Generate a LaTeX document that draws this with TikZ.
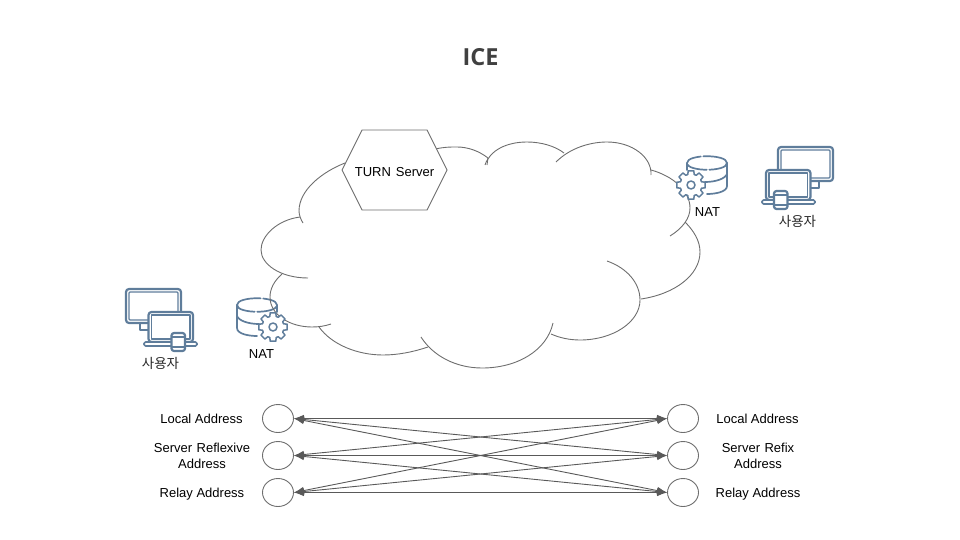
\documentclass[tikz,border=0pt]{standalone}
\usepackage{fontspec}
\setmainfont{Liberation Sans}
\newfontfamily\krfont{Noto Sans CJK KR}
\newfontfamily\titlefont{Open Sans}
\usetikzlibrary{arrows.meta,shapes.geometric}
\definecolor{iconblue}{HTML}{5F7D9B}
\definecolor{cloudgrey}{HTML}{6E6E6E}
\definecolor{linkgrey}{HTML}{595959}
\definecolor{titlegrey}{HTML}{404040}
\tikzset{
  cloudarc/.style={draw=cloudgrey,line width=0.9pt},
  iconline/.style={draw=iconblue,line width=1.7pt,line join=round,line cap=round},
  iconfill/.style={iconline,fill=white},
  labeltext/.style={font=\fontsize{13}{16}\selectfont,text=black,align=center,inner sep=0pt},
  kortext/.style={font=\krfont\fontsize{13.5}{15}\selectfont,text=black!85,inner sep=0pt},
  endpoint/.style={draw=cloudgrey,line width=0.9pt,ellipse,minimum width=31pt,minimum height=28pt,inner sep=0pt},
  linkline/.style={draw=linkgrey,line width=0.9pt,{Latex[length=10pt,width=7.5pt]}-{Latex[length=10pt,width=7.5pt]}},
  pics/devices/.style={code={
    \draw[iconline,line width=2.2pt,rounded corners=3pt] (1,1) rectangle (56,35);
    \draw[iconline,line width=1.3pt,rounded corners=1pt] (4,4) rectangle (53,32);
    \draw[iconline] (15,35)--(15,42)--(23,42);
    \draw[iconfill,line width=2.2pt,rounded corners=3pt] (23.5,24) rectangle (68,54);
    \draw[iconline,line width=1.3pt] (26.5,27) rectangle (65,51);
    \draw[iconfill,rounded corners=1.5pt] (19,54) -- (72,54) -- (72,58) -- (19,58) -- cycle;
    \draw[iconfill,line width=2.2pt,rounded corners=2.5pt] (46.5,45) rectangle (60,63);
    \draw[iconline,line width=1.3pt] (46.5,49)--(60,49) (46.5,59)--(60,59);
  }},
  pics/gearbody/.style={code={
    \draw[iconfill,line width=1.5pt]
      (-11:14.5) \foreach \a in {0,45,...,315}{
        -- (\a-11:14.5) -- (\a+11:14.5) -- (\a+17:11) -- (\a+28:11)
      } -- cycle;
    \draw[iconline,line width=1.5pt] (0,0) circle (4);
  }},
  pics/cylinder/.style={code={
    \draw[iconline,dash pattern=on 26pt off 2.5pt] (0,7) .. controls (0,-2) and (40,-2) .. (40,7);
    \draw[iconline,dash pattern=on 20pt off 2.5pt] (0,7) .. controls (0,16) and (40,16) .. (40,7);
    \draw[iconline] (0,7) -- (0,30) .. controls (0,36) and (12,38) .. (20,38);
    \draw[iconline] (40,7) -- (40,14);
    \draw[iconline] (0,18) .. controls (2,23) and (12,26) .. (22,26);
  }}
}
\begin{document}
\begin{tikzpicture}[x=1pt,y=-1pt]
\useasboundingbox (0,0) rectangle (960,540);
\node[font=\titlefont\bfseries\fontsize{23.5}{26}\selectfont,text=titlegrey,inner sep=0pt] (title) at (480.5,57.5) {ICE};

\pic at (237,298) {cylinder};
\pic[xscale=-1] at (727,156) {cylinder};

\draw[cloudarc] (345,163) .. controls (322,172) and (299,190) .. (299,211) .. controls (299,215) and (301,220) .. (303,223);
\draw[cloudarc] (300,217) .. controls (277,220) and (261,236) .. (261,250) .. controls (261,264) and (280,278) .. (308,278);
\draw[cloudarc] (282,274) .. controls (274,281) and (270,289) .. (270,297) .. controls (270,315) and (290,327) .. (312,327) .. controls (319,327) and (325,326) .. (331,324);
\draw[cloudarc] (319,327) .. controls (332,345) and (358,355) .. (383,355) .. controls (398,355) and (413,352) .. (428,347);
\draw[cloudarc] (421,337) .. controls (433,356) and (456,368) .. (482,368) .. controls (518,368) and (547,350) .. (553,323);
\draw[cloudarc] (551,334) .. controls (560,338) and (570,340) .. (580,340) .. controls (613,340) and (640,322) .. (640,300) .. controls (640,283) and (627,268) .. (607,261);
\draw[cloudarc] (641,299) .. controls (675,294) and (700,275) .. (700,252) .. controls (700,241) and (694,231) .. (685,222);
\draw[cloudarc] (670,236) .. controls (683,228) and (690,218) .. (690,208) .. controls (690,191) and (673,176) .. (651,170);
\draw[cloudarc] (651,175) .. controls (652,157) and (632,142) .. (607,142) .. controls (590,142) and (570,148) .. (556,162);
\draw[cloudarc] (564,153) .. controls (555,146) and (541,142) .. (527,142) .. controls (507,142) and (490,150) .. (485,165);
\draw[cloudarc] (435,149) .. controls (445,147) and (449,147) .. (457,147) .. controls (468,147) and (479,151) .. (488,158) -- (487,165);

\pic at (273,327) {gearbody};
\pic at (691,185) {gearbody};

\coordinate (hexa) at (362,130);
\coordinate (hexb) at (427,130);
\coordinate (hexc) at (447,170);
\coordinate (hexd) at (427,210);
\coordinate (hexe) at (362,210);
\coordinate (hexf) at (342,170);
\draw[cloudarc,fill=white] (hexa)--(hexb)--(hexc)--(hexd)--(hexe)--(hexf)--cycle;
\node[labeltext] (turn) at (394.5,172) {TURN\hspace{5pt}Server};

\pic at (125,288) {devices};
\pic[xscale=-1] at (834,146) {devices};

\node[kortext] (userl) at (160.5,363) {사용자};
\node[kortext] (userr) at (797.5,221) {사용자};
\node[labeltext] (natl) at (261.5,354) {NAT};
\node[labeltext] (natr) at (707.5,212) {NAT};

\node[endpoint] (l1) at (278,418.5) {};
\node[endpoint] (l2) at (278,455.5) {};
\node[endpoint] (l3) at (278,492.5) {};
\node[endpoint] (r1) at (683,418.5) {};
\node[endpoint] (r2) at (683,455.5) {};
\node[endpoint] (r3) at (683,492.5) {};
\foreach \i in {1,2,3}{\foreach \j in {1,2,3}{
  \draw[linkline] (l\i.east) -- (r\j.west);
}}
\node[labeltext] (ll1) at (201.5,418.5) {Local Address};
\node[labeltext] (ll2) at (202,455.5) {Server\hspace{4.5pt}Reflexive\\Address};
\node[labeltext] (ll3) at (202,494) {Relay Address};
\node[labeltext] (rl1) at (757.5,418.5) {Local Address};
\node[labeltext] (rl2) at (758,455.5) {Server\hspace{4.5pt}Refix\\Address};
\node[labeltext] (rl3) at (758,494) {Relay Address};
\end{tikzpicture}
\end{document}
